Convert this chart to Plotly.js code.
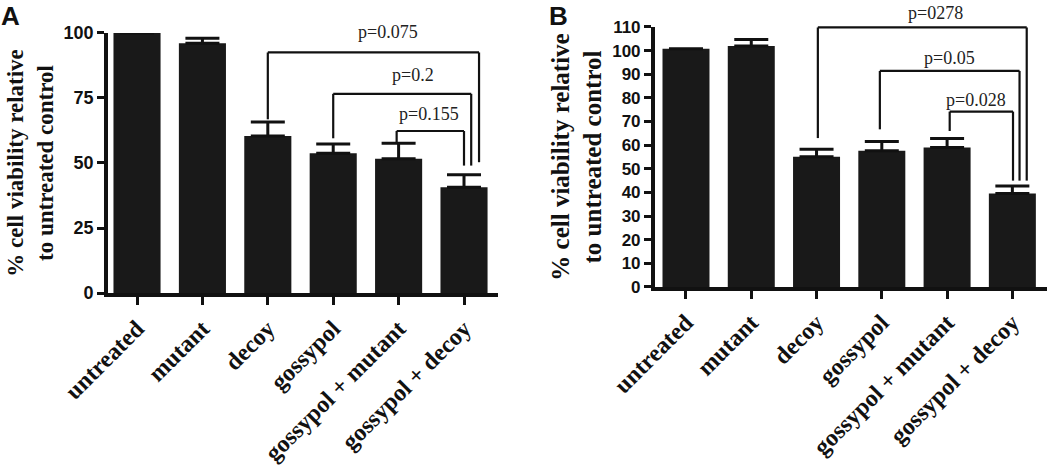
<!DOCTYPE html>
<html>
<head>
<meta charset="utf-8">
<script src="https://cdn.plot.ly/plotly-3.0.1.min.js"></script>
<style>html,body{margin:0;padding:0;background:#fff;}#chart{width:1050px;height:471px;}</style>
</head>
<body>
<div id="chart"></div>
<script>
// ---- data ----
const categories = ["untreated", "mutant", "decoy", "gossypol", "gossypol + mutant", "gossypol + decoy"];
const valuesA = [100, 96, 60.4, 53.7, 51.6, 40.7];
const errorsA = [0, 2, 5.4, 3.6, 6, 4.8];
const valuesB = [100.8, 102, 55.1, 57.6, 59, 39.6];
const errorsB = [0, 2.7, 3.2, 4, 3.8, 3.1];
const tickValsA = [0, 25, 50, 75, 100];
const tickValsB = [0, 10, 20, 30, 40, 50, 60, 70, 80, 90, 100, 110];
// comparisons: [from index, to index, bracket level, p label]
const bracketsA = [
  [2, 5, 92.5, "p=0.075"],
  [3, 5, 76.6, "p=0.2"],
  [4, 5, 62.3, "p=0.155"]
];
const bracketsB = [
  [2, 5, 109.8, "p=0278"],
  [3, 5, 91.4, "p=0.05"],
  [4, 5, 74.2, "p=0.028"]
];
const yTitle = "% cell viability relative<br>to untreated control";

// ---- build ----
const idx = categories.map((_, i) => i);
const barColor = "#191919";
function barTrace(vals, errs, xa, ya) {
  return {
    type: "bar", x: idx, y: vals, xaxis: xa, yaxis: ya, width: 0.72,
    marker: {color: barColor, line: {width: 0}},
    error_y: {type: "data", symmetric: false, array: errs, arrayminus: errs.map(() => 0),
      color: "#111", thickness: 3, width: 17, visible: true},
    hoverinfo: "x+y", showlegend: false
  };
}

const shapes = [];
const annotations = [];
// style/position helpers (offsets in category units, leg ends in data units)
function addBrackets(list, yMax, xr, yr, rightOffsets, labelDx, leftEnds, rightEnds, textShift) {
  const yd = yr + " domain";
  const f = v => v / yMax;
  list.forEach((b, k) => {
    const [i0, i1, lvl, lab] = b;
    const xl = i0 + labelDx[k][0];
    const xrgt = i1 + rightOffsets[k];
    const ln = {color: "#111", width: 2.2};
    shapes.push({type: "line", xref: xr, yref: yd, x0: xl, x1: xrgt, y0: f(lvl), y1: f(lvl), line: ln});
    shapes.push({type: "line", xref: xr, yref: yd, x0: xl, x1: xl, y0: f(lvl), y1: f(leftEnds[k]), line: ln});
    shapes.push({type: "line", xref: xr, yref: yd, x0: xrgt, x1: xrgt, y0: f(lvl), y1: f(rightEnds[k]), line: ln});
    annotations.push({xref: xr, yref: yd, x: (xl + xrgt) / 2 + labelDx[k][1], y: f(lvl), yshift: textShift[k],
      yanchor: "bottom", text: lab, showarrow: false,
      font: {family: "Liberation Serif, Times New Roman, serif", size: 18, color: "#222"}});
  });
}
addBrackets(bracketsA, 100, "x", "y", [0.23, 0.11, 0.0],
  [[0.0, 0.22], [0.0, 0.17], [-0.03, -0.02]],
  [66.8, 59.5, 57.8], [50.3, 49, 49], [8, 7, 5]);
addBrackets(bracketsB, 110, "x2", "y2", [0.22, 0.11, 0.01],
  [[0.02, 0.21], [-0.03, 0.0], [0.04, -0.08]],
  [63, 66.7, 66], [45, 45, 45], [2, 1, 0]);

const panelFont = {family: "Liberation Sans, Arial, sans-serif", size: 26, weight: "bold", color: "#111"};
annotations.push({xref: "paper", yref: "paper", x: 0.0, y: 1.0, xanchor: "left", yanchor: "top",
  text: "A", showarrow: false, font: panelFont, borderpad: 0});
annotations.push({xref: "paper", yref: "paper", x: 0.522, y: 1.0, xanchor: "left", yanchor: "top",
  text: "B", showarrow: false, font: panelFont, borderpad: 0});

const tickFontX = {family: "Liberation Serif, Times New Roman, serif", size: 24, weight: "bold", color: "#111"};

function xAxis(domain, range, anchor) {
  return {domain: domain, range: range, anchor: anchor, tickmode: "array", tickvals: idx, ticktext: categories,
    tickangle: -45, ticks: "outside", ticklen: 8, tickwidth: 3, tickcolor: "#111",
    showline: true, linewidth: 4, linecolor: "#111", showgrid: false, zeroline: false,
    tickfont: tickFontX, automargin: false, fixedrange: true};
}
function yAxis(domain, range, tickvals, anchor, standoff, tickSize, titleSize) {
  return {domain: domain, range: range, anchor: anchor, tickmode: "array", tickvals: tickvals,
    ticks: "outside", ticklen: 7, tickwidth: 3, tickcolor: "#111",
    showline: true, linewidth: 4, linecolor: "#111", showgrid: false, zeroline: false,
    tickfont: {family: "Liberation Sans, Arial, sans-serif", size: tickSize, weight: "bold", color: "#111"},
    automargin: false, fixedrange: true,
    title: {text: yTitle, standoff: standoff,
      font: {family: "Liberation Serif, Times New Roman, serif", size: titleSize, weight: "bold", color: "#111"}}};
}

const layout = {
  width: 1050, height: 471,
  margin: {l: 0, r: 0, t: 0, b: 0},
  paper_bgcolor: "#fff", plot_bgcolor: "#fff",
  showlegend: false,
  xaxis: xAxis([0.1029, 0.4743], [-0.443, 5.52], "y"),
  yaxis: yAxis([0.3779, 0.93], [0, 100], tickValsA, "x", 4, 18, 23),
  xaxis2: xAxis([0.6238, 0.9971], [-0.475, 5.53], "y2"),
  yaxis2: yAxis([0.3907, 0.9427], [0, 110], tickValsB, "x2", 4, 17, 25),
  shapes: shapes,
  annotations: annotations
};

Plotly.newPlot("chart", [
  barTrace(valuesA, errorsA, "x", "y"),
  barTrace(valuesB, errorsB, "x2", "y2")
], layout, {displayModeBar: false, staticPlot: true});
</script>
</body>
</html>
